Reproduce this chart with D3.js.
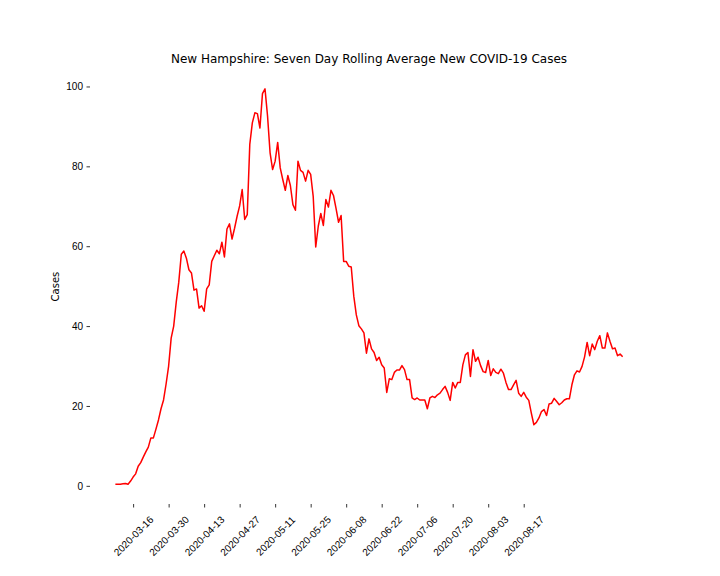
<!DOCTYPE html>
<html>
<head>
<meta charset="utf-8">
<script src="https://cdn.jsdelivr.net/npm/d3@7"></script>
<style>
  body { margin: 0; background: #fff; }
  svg { font-family: "DejaVu Sans", sans-serif; }
</style>
</head>
<body>
<svg id="chart" width="720" height="576"></svg>
<script>
// seven day rolling average, one value per day starting 2020-03-09
const firstDay = '2020-03-09'
const cases = [
  0.4, 0.4, 0.4, 0.5, 0.6, 0.4, 1.2, 2.2, 3.0, 4.9,
  5.8, 7.2, 8.5, 9.7, 12.0, 12.0, 14.2, 16.5, 19.3, 21.5,
  25.5, 30.0, 37.0, 40.0, 46.0, 51.0, 58.0, 58.8, 57.0, 54.1,
  53.3, 49.0, 49.3, 44.5, 45.1, 43.7, 49.3, 50.3, 56.2, 57.6,
  59.0, 58.1, 61.0, 57.3, 64.3, 65.6, 61.8, 64.5, 67.5, 70.1,
  74.2, 66.7, 67.9, 85.5, 90.9, 93.4, 93.2, 89.6, 98.2, 99.4,
  92.6, 83.4, 79.2, 81.3, 86.0, 79.6, 76.7, 74.0, 77.7, 75.2,
  70.4, 69.0, 81.3, 79.0, 78.5, 76.3, 79.0, 78.0, 72.5, 59.8,
  65.0, 68.2, 65.2, 71.7, 69.8, 74.0, 72.7, 69.5, 66.0, 67.7,
  56.2, 56.2, 55.0, 54.8, 47.5, 42.8, 40.1, 39.3, 38.3, 33.2,
  36.8, 34.3, 33.4, 31.4, 32.2, 30.3, 29.5, 23.4, 26.8, 26.6,
  28.4, 29.0, 29.0, 30.1, 29.1, 26.6, 26.6, 22.0, 21.6, 22.0,
  21.5, 21.5, 21.5, 19.3, 22.0, 22.4, 22.1, 22.8, 23.2, 24.1,
  24.9, 23.4, 21.4, 25.9, 24.5, 25.9, 25.9, 30.3, 32.8, 33.4,
  27.4, 34.1, 31.2, 32.2, 30.1, 28.6, 28.4, 31.4, 27.6, 29.3,
  28.4, 28.1, 29.2, 28.2, 25.9, 24.1, 24.1, 25.3, 26.4, 23.2,
  22.4, 23.4, 22.2, 21.4, 18.2, 15.3, 15.9, 17.0, 18.6, 19.1,
  17.6, 20.5, 20.7, 21.9, 21.1, 20.3, 20.8, 21.5, 21.8, 21.8,
  25.3, 27.8, 28.8, 28.5, 29.9, 32.3, 35.9, 32.6, 35.5, 34.1,
  36.2, 37.6, 34.5, 34.5, 38.3, 36.2, 34.3, 34.5, 32.6, 33.0,
  32.3
]
const yTicks = [0, 20, 40, 60, 80, 100]
const xTickLabels = [
  '2020-03-16', '2020-03-30', '2020-04-13', '2020-04-27', '2020-05-11', '2020-05-25',
  '2020-06-08', '2020-06-22', '2020-07-06', '2020-07-20', '2020-08-03', '2020-08-17'
]

const parseDate = d3.utcParse('%Y-%m-%d')
const start = parseDate(firstDay)
const data = cases.map((v, i) => ({ date: d3.utcDay.offset(start, i), value: v }))

// axes box like a 10x8 matplotlib figure
const plotLeft = 90, plotRight = 648, plotTop = 69.1, plotBottom = 504

const svg = d3.select('#chart')

// 5% padding on both axes, the matplotlib way
const xExt = d3.extent(data, d => d.date)
const xPad = (xExt[1] - xExt[0]) * 0.05
const x = d3.scaleUtc()
  .domain([new Date(+xExt[0] - xPad), new Date(+xExt[1] + xPad)])
  .range([plotLeft, plotRight])

const yExt = d3.extent(data, d => d.value)
const yPad = (yExt[1] - yExt[0]) * 0.05
const y = d3.scaleLinear()
  .domain([yExt[0] - yPad, yExt[1] + yPad])
  .range([plotBottom, plotTop])

// y axis, no spine
const yAxis = svg.append('g')
  .attr('transform', `translate(${plotLeft},0)`)
  .call(d3.axisLeft(y).tickValues(yTicks).tickSize(3.5).tickPadding(3.5).tickFormat(d3.format('d')))
yAxis.select('.domain').remove()
yAxis.selectAll('line').attr('stroke', '#000').attr('stroke-width', 0.8)
yAxis.selectAll('text').attr('font-size', 10).attr('fill', '#000')

// x axis, no spine, rotated labels
const xDates = xTickLabels.map(parseDate)
const xAxis = svg.append('g')
  .attr('transform', `translate(0,${plotBottom})`)
  .call(d3.axisBottom(x).tickValues(xDates).tickSize(3.5).tickFormat(d3.utcFormat('%Y-%m-%d')))
xAxis.select('.domain').remove()
xAxis.selectAll('line').attr('stroke', '#000').attr('stroke-width', 0.8)
xAxis.selectAll('text')
  .attr('font-size', 10)
  .attr('fill', '#000')
  .attr('y', 0)
  .attr('dy', null)
  .attr('text-anchor', 'middle')
  .attr('dominant-baseline', 'central')
  .attr('transform', 'translate(0,32) rotate(-45)')

// the line
const line = d3.line()
  .x(d => x(d.date))
  .y(d => y(d.value))

svg.append('path')
  .datum(data)
  .attr('fill', 'none')
  .attr('stroke', 'red')
  .attr('stroke-width', 1.5)
  .attr('stroke-linejoin', 'round')
  .attr('d', line)

// title and label
svg.append('text')
  .attr('x', (plotLeft + plotRight) / 2)
  .attr('y', plotTop - 6)
  .attr('text-anchor', 'middle')
  .attr('font-size', 12)
  .text('New Hampshire: Seven Day Rolling Average New COVID-19 Cases')

svg.append('text')
  .attr('transform', `translate(59,${(plotTop + plotBottom) / 2}) rotate(-90)`)
  .attr('text-anchor', 'middle')
  .attr('font-size', 10)
  .text('Cases')
</script>
</body>
</html>
